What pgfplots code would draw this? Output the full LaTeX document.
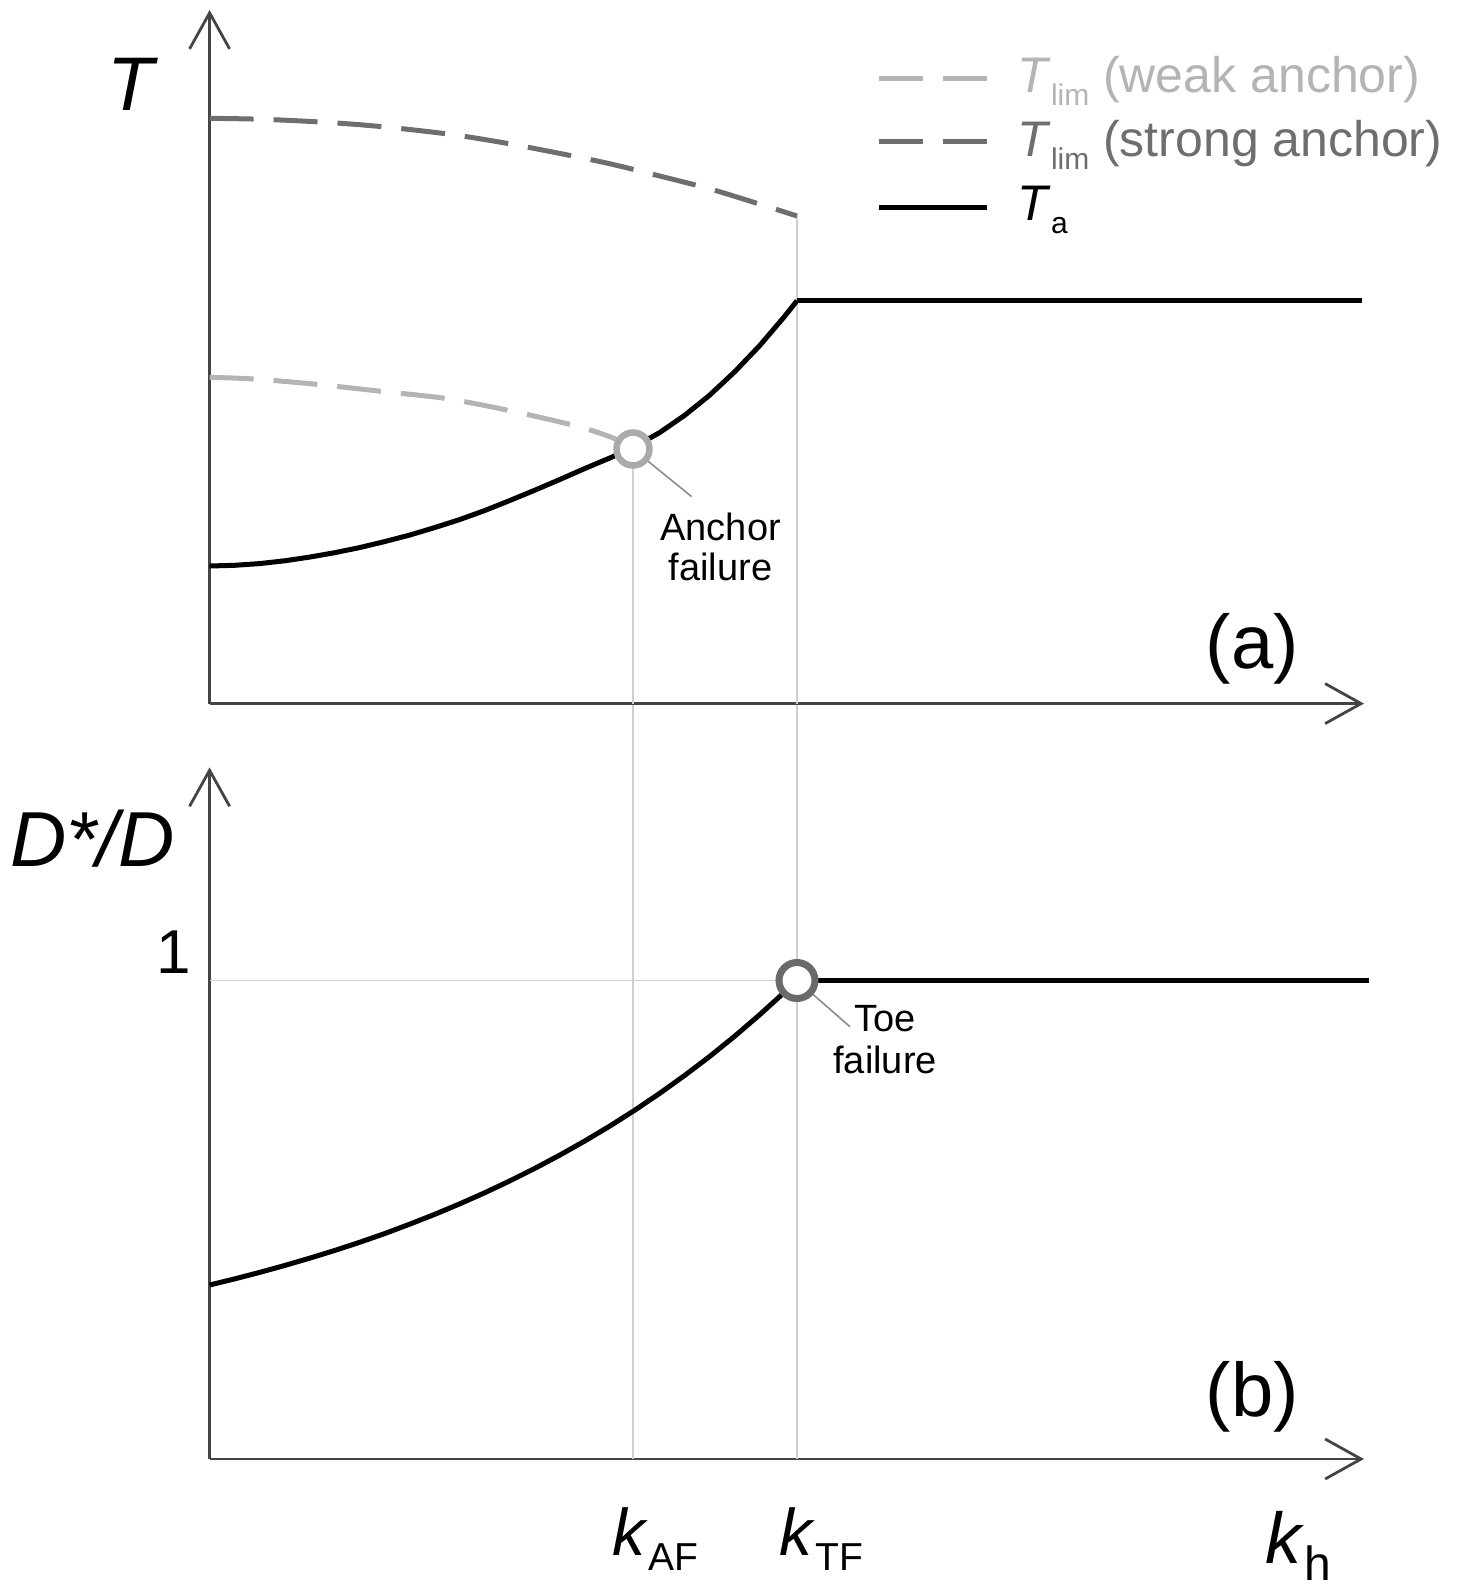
\documentclass[border=0pt]{standalone}
\usepackage{fontspec}
\setmainfont{Liberation Sans}
\usepackage{pgfplots}
\pgfplotsset{compat=1.18}
\usetikzlibrary{arrows.meta}

\definecolor{weakc}{HTML}{B4B4B4}
\definecolor{strongc}{HTML}{6E6E6E}
\definecolor{gridc}{HTML}{CFCFCF}
\definecolor{axisc}{HTML}{444444}
\definecolor{toec}{HTML}{6A6A6A}
\definecolor{anchc}{HTML}{AAAAAA}
\definecolor{leadc}{HTML}{8C8C8C}

\newcommand{\fs}[1]{\fontsize{#1}{#1}\selectfont}

\tikzset{lbl/.style={inner sep=0pt, outer sep=0pt}}
\pgfplotsset{
  panel/.style={
    scale only axis, width=577.2pt, xmin=0, xmax=1154.4, ymin=0,
    axis lines=left,
    axis line style={axisc, line width=1.4pt, -{Straight Barb[length=18pt,width=20pt]}},
    xtick=\empty, ytick=\empty, clip=false,
  },
  gridl/.style={gridc, line width=0.7pt, forget plot},
  curve/.style={black, line width=2.5pt, forget plot, line join=round},
}

\begin{document}
\begin{tikzpicture}
\useasboundingbox (-104.8pt,-441.7pt) rectangle (629.2pt,351.8pt);

% ---------------- panel (a)
\begin{axis}[panel, at={(0pt,0pt)}, anchor=south west, height=346.8pt, ymax=693.6]
\addplot[gridl] coordinates {(423.4,254.6) (423.4,0)};
\addplot[gridl] coordinates {(587.4,487.6) (587.4,0)};
% strong anchor
\addplot[strongc, line width=2.5pt, dash pattern=on 22pt off 10pt, forget plot, smooth] coordinates {
 (0,585.3) (50,584.4) (100,582.2) (150,578.9) (200,574.1) (250,568.0) (300,559.8)
 (350,550.2) (400,539.9) (450,527.6) (500,514.8) (550,499.5) (587.4,487.6)};
% weak anchor
\addplot[weakc, line width=2.5pt, dash pattern=on 22pt off 10pt, forget plot, smooth] coordinates {
 (0,326.3) (44,324.6) (107,319.3) (174,312) (237,305) (300,293) (365,278) (400,267) (423.4,256)};
% T_a
\addplot[curve] coordinates {
 (0,137.6) (25,138.3) (50,140) (75,142.8) (100,146.5) (125,150.9) (150,156) (175,162)
 (200,168.5) (225,176) (250,184) (275,193) (300,203) (325,213.3) (350,224) (375,235)
 (400,245.5) (423.4,256) (450,271) (475,288.2) (500,308.4) (525,331.7) (550,357.9)
 (575,387.2) (587.4,402.9)};
\addplot[curve] coordinates {(587.4,402.9) (1152,402.9)};
% anchor failure circle
\addplot[only marks, mark=*, mark size=8.25pt, forget plot,
  mark options={draw=anchc, fill=white, line width=3.25pt, solid}] coordinates {(423.4,254.6)};
\addplot[leadc, line width=0.8pt, forget plot] coordinates {(423.4,254.6) (482,207)};
% legend lines
\addplot[weakc, line width=2.5pt, dash pattern=on 22pt off 10pt, forget plot] coordinates {(669.2,625.6) (777.4,625.6)};
\addplot[strongc, line width=2.5pt, dash pattern=on 22pt off 10pt, forget plot] coordinates {(669.2,561.9) (777.4,561.9)};
\addplot[black, line width=2.5pt, forget plot] coordinates {(669.2,496.1) (777.4,496.1)};
% legend texts
\node[lbl, anchor=base west, font=\fs{25}, text=weakc] at (axis cs:807.9,611.6)
  {\textit{T}\raisebox{-6.5pt}{\fs{15}lim} (weak anchor)};
\node[lbl, anchor=base west, font=\fs{25}, text=strongc] at (axis cs:807.9,547.6)
  {\textit{T}\raisebox{-6.5pt}{\fs{15}lim} (strong anchor)};
\node[lbl, anchor=base west, font=\fs{25}, text=black] at (axis cs:807.9,483.6)
  {\textit{T}\raisebox{-6.5pt}{\fs{15}a}};
% labels
\node[lbl, font=\fs{38}\itshape] at (axis cs:-78.6,619.6) {T};
\node[lbl, font=\fs{38}] at (axis cs:1042.7,54.6) {(a)};
\node[lbl, anchor=base, font=\fs{19}] at (axis cs:511,163.6) {Anchor};
\node[lbl, anchor=base, font=\fs{19}] at (axis cs:511,123.6) {failure};
\end{axis}

% ---------------- panel (b)
\begin{axis}[panel, at={(0pt,-377.7pt)}, anchor=south west, height=345.8pt, ymax=691.6]
\addplot[gridl] coordinates {(423.4,0) (423.4,754)};
\addplot[gridl] coordinates {(587.4,0) (587.4,754)};
\addplot[gridl] coordinates {(0,478.5) (587.4,478.5)};
\addplot[curve] coordinates {
 (0,174) (25,180.1) (50,186.6) (75,193.5) (100,200.8) (125,208.5) (150,216.7) (175,225.4)
 (200,234.8) (225,244.6) (250,255.1) (275,266.2) (300,278) (325,290.5) (350,303.8)
 (375,317.9) (400,332.8) (425,348.7) (450,365.6) (475,383.5) (500,402.5) (525,422.7)
 (550,444.2) (575,466.9) (587.4,478.5)};
\addplot[curve] coordinates {(587.4,478.5) (1159.2,478.5)};
\addplot[only marks, mark=*, mark size=9pt, forget plot,
  mark options={draw=toec, fill=white, line width=3.5pt, solid}] coordinates {(587.4,478.5)};
\addplot[leadc, line width=0.8pt, forget plot] coordinates {(587.4,478.5) (640.4,432.3)};
% labels
\node[lbl, font=\fs{39}\itshape] at (axis cs:-117.1,620) {D*/D};
\node[lbl, font=\fs{31}] at (axis cs:-35.6,506.5) {1};
\node[lbl, font=\fs{38}] at (axis cs:1042.7,62) {(b)};
\node[lbl, anchor=base, font=\fs{19}] at (axis cs:675.5,428) {Toe};
\node[lbl, anchor=base, font=\fs{19}] at (axis cs:675.5,386) {failure};
\node[lbl, anchor=base west, font=\fs{33}] at (axis cs:403.4,-96)
  {\textit{k}\raisebox{-7.5pt}{\fs{19.5}AF}};
\node[lbl, anchor=base west, font=\fs{33}] at (axis cs:570.4,-96)
  {\textit{k}\raisebox{-7.5pt}{\fs{19.5}TF}};
\node[lbl, anchor=base west, font=\fs{36}] at (axis cs:1055.4,-104)
  {\textit{k}\raisebox{-8.5pt}{\fs{24}h}};
\end{axis}
\end{tikzpicture}
\end{document}
